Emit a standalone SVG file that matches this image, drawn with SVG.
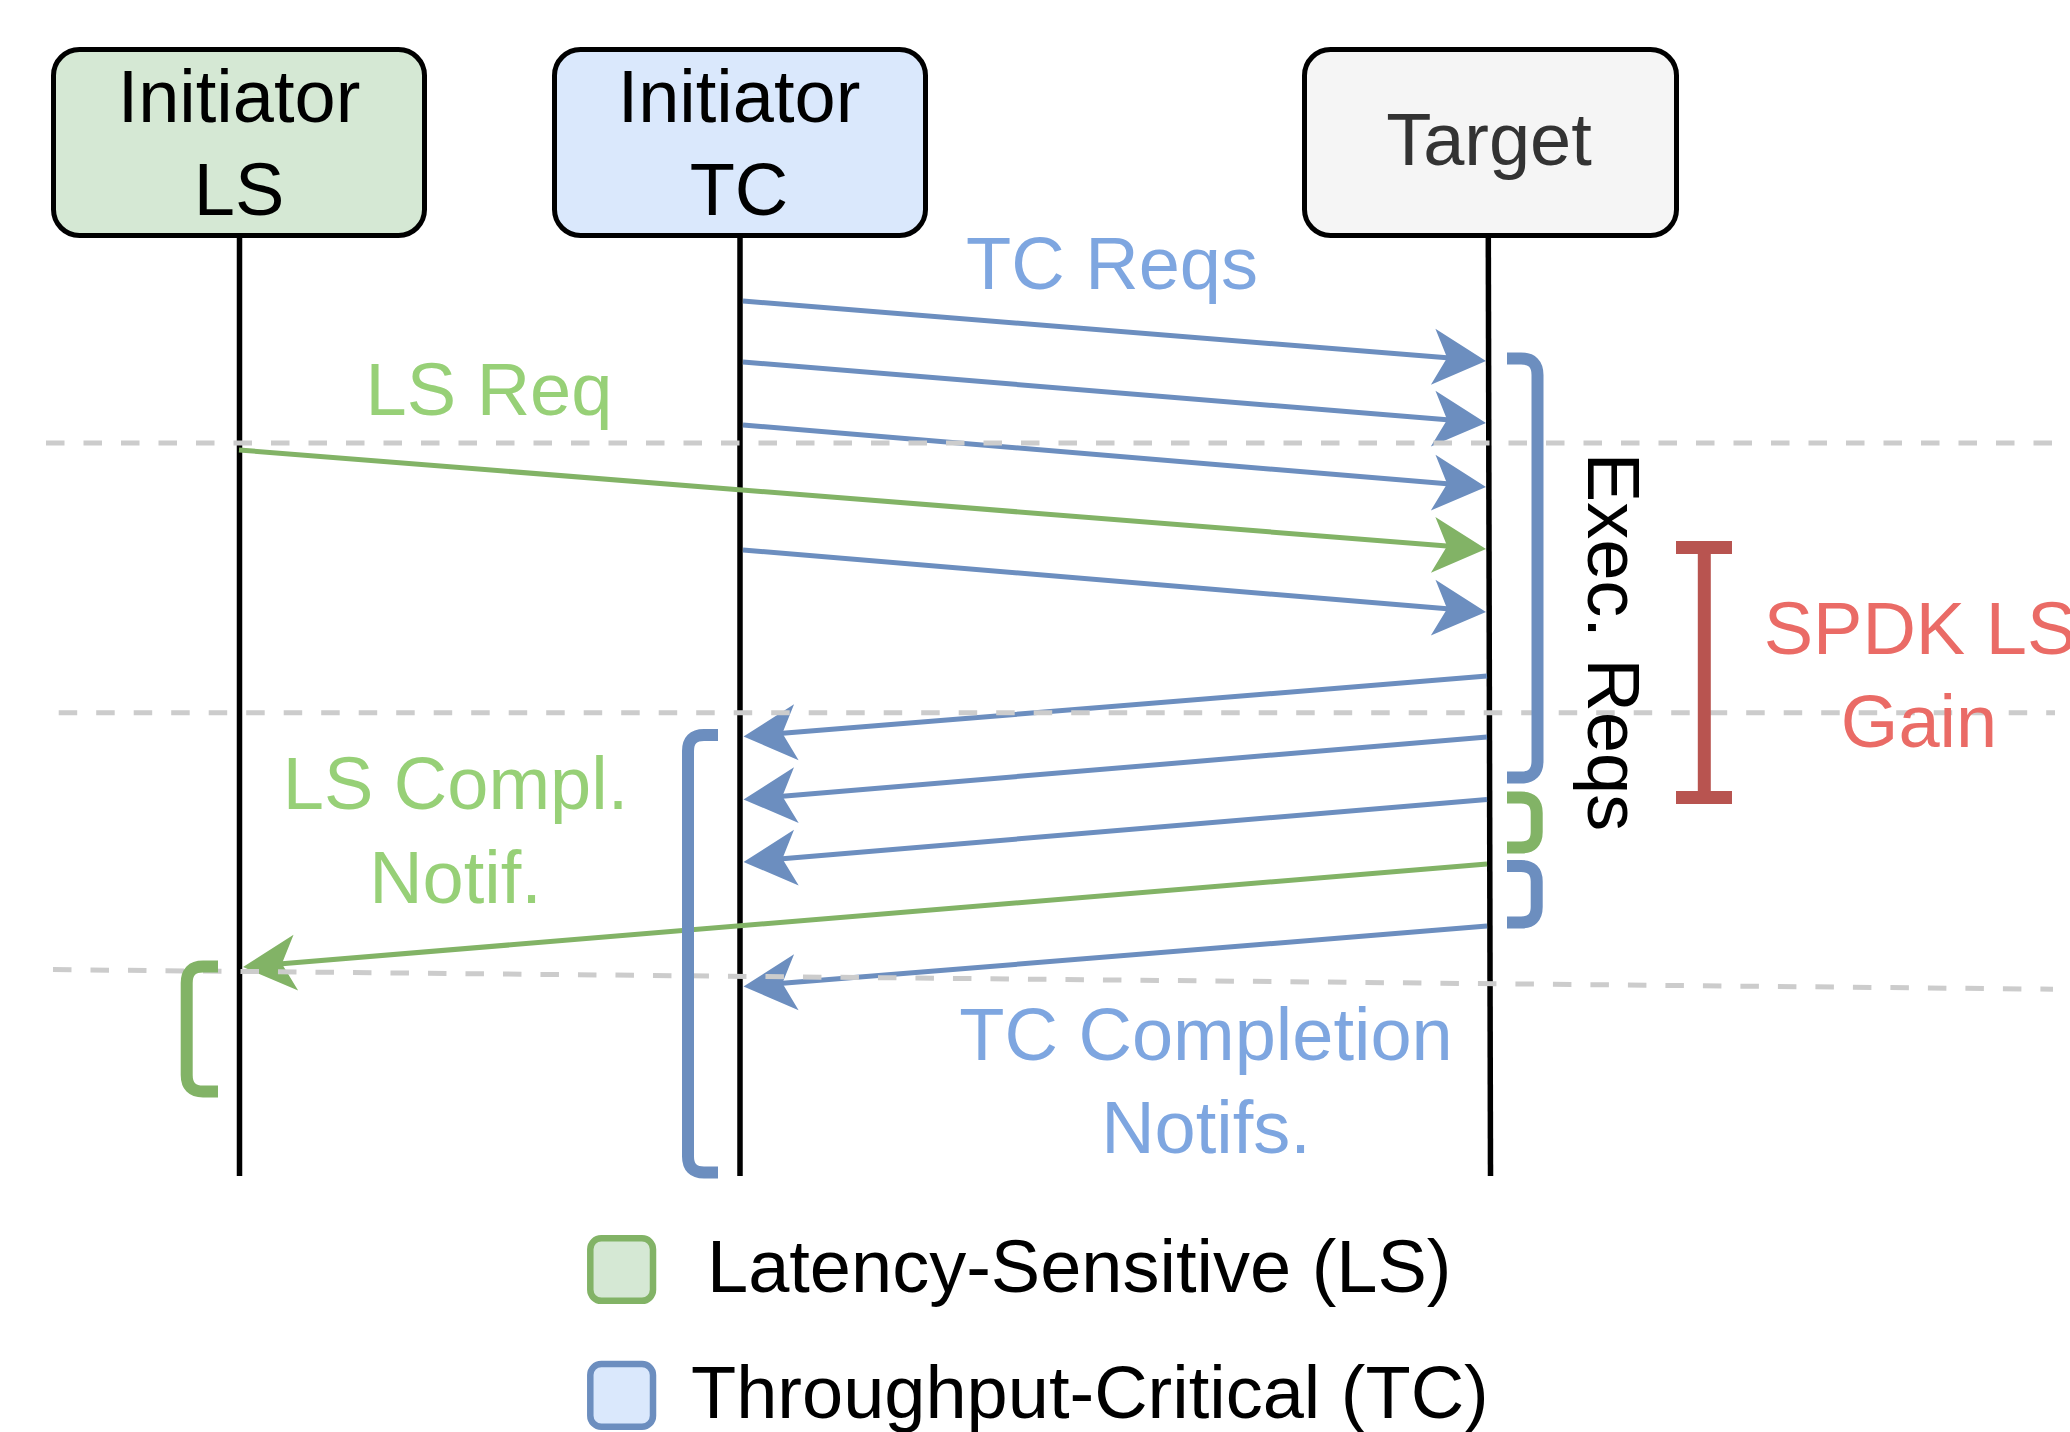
<svg xmlns="http://www.w3.org/2000/svg" width="2070" height="1432" viewBox="0 0 2070 1432">
  <defs>
    <style>
      .node { stroke: #000000; stroke-width: 5; }
      .lifeline { stroke: #000000; stroke-width: 5.5; fill: none; }
      .label { font-family: "Liberation Sans", Arial, sans-serif; font-size: 74px; text-anchor: middle; }
      .msg-tc { stroke: #6c8ebf; stroke-width: 5; fill: none; }
      .msg-ls { stroke: #82b366; stroke-width: 5; fill: none; }
      .guide { stroke: #cccccc; stroke-width: 5; stroke-dasharray: 18.5 19; fill: none; }
      .brace-tc { stroke: #6c8ebf; stroke-width: 12; fill: none; }
      .brace-ls { stroke: #82b366; stroke-width: 12; fill: none; }
    </style>
    <marker id="head-tc" viewBox="-55 -30 57 60" refX="-36" refY="0" markerWidth="57" markerHeight="60" markerUnits="userSpaceOnUse" orient="auto">
      <path d="M0,0 L-53,-28 L-39,0 L-53,28 Z" fill="#6c8ebf"/>
    </marker>
    <marker id="head-ls" viewBox="-55 -30 57 60" refX="-36" refY="0" markerWidth="57" markerHeight="60" markerUnits="userSpaceOnUse" orient="auto">
      <path d="M0,0 L-53,-28 L-39,0 L-53,28 Z" fill="#82b366"/>
    </marker>
  </defs>

  <rect width="2070" height="1432" fill="#ffffff"/>

  <!-- participants -->
  <g id="node-initiator-ls">
    <rect class="node" x="53.5" y="49.5" width="371" height="186" rx="26" fill="#d5e8d4"/>
    <text class="label" x="239" y="122" fill="#000000">Initiator</text>
    <text class="label" x="239" y="215" fill="#000000">LS</text>
    <line class="lifeline" x1="239.5" y1="238" x2="239.5" y2="1176"/>
  </g>
  <g id="node-initiator-tc">
    <rect class="node" x="554.5" y="49.5" width="371" height="186" rx="26" fill="#dae8fc"/>
    <text class="label" x="739" y="122" fill="#000000">Initiator</text>
    <text class="label" x="739" y="215" fill="#000000">TC</text>
    <line class="lifeline" x1="740" y1="238" x2="740" y2="1176"/>
  </g>
  <g id="node-target">
    <rect class="node" x="1304.5" y="49.5" width="372" height="186" rx="26" fill="#f5f5f5"/>
    <text class="label" x="1489" y="165" fill="#333333">Target</text>
    <line class="lifeline" x1="1488.3" y1="238" x2="1490.5" y2="1176"/>
  </g>

  <!-- messages -->
  <g id="connectors">
    <!-- TC requests -->
    <line class="msg-tc" x1="743" y1="301" x2="1450.1" y2="358.1" marker-end="url(#head-tc)"/>
    <line class="msg-tc" x1="743" y1="362" x2="1450.1" y2="420.1" marker-end="url(#head-tc)"/>
    <line class="msg-tc" x1="743" y1="425" x2="1450.1" y2="484.0" marker-end="url(#head-tc)"/>
    <line class="msg-tc" x1="743" y1="550" x2="1450.1" y2="609.0" marker-end="url(#head-tc)"/>
    <!-- LS request -->
    <line class="msg-ls" x1="239" y1="450" x2="1450.1" y2="546.2" marker-end="url(#head-ls)"/>
    <!-- TC completions -->
    <line class="msg-tc" x1="1487" y1="676" x2="779.4" y2="733.6" marker-end="url(#head-tc)"/>
    <line class="msg-tc" x1="1487" y1="737" x2="779.4" y2="796.5" marker-end="url(#head-tc)"/>
    <line class="msg-tc" x1="1487" y1="799.5" x2="779.4" y2="859.0" marker-end="url(#head-tc)"/>
    <line class="msg-tc" x1="1487" y1="926" x2="779.4" y2="983.6" marker-end="url(#head-tc)"/>
    <!-- LS completion -->
    <line class="msg-ls" x1="1487" y1="864" x2="278.9" y2="964.0" marker-end="url(#head-ls)"/>
  </g>

  <!-- time reference lines -->
  <g id="guides">
    <path class="guide" d="M46,443 H2070"/>
    <path class="guide" d="M58.7,712.7 H2055"/>
    <path class="guide" d="M53,969.6 L2053,989.2"/>
  </g>

  <!-- execution / wait spans -->
  <g id="spans">
    <path class="brace-tc" d="M1507,358.5 H1521 Q1537.5,358.5 1537.5,375 V761 Q1537.5,777.5 1521,777.5 H1507"/>
    <path class="brace-ls" d="M1507,797.5 H1521 Q1536.7,797.5 1536.7,813 V832 Q1536.7,847.5 1521,847.5 H1507"/>
    <path class="brace-tc" d="M1507,866 H1521 Q1536.7,866 1536.7,881.5 V907 Q1536.7,922.5 1521,922.5 H1507"/>
    <path class="brace-tc" d="M718,735 H704 Q688,735 688,751 V1156.5 Q688,1172.5 704,1172.5 H718"/>
    <path class="brace-ls" d="M218,966.5 H203 Q186.7,966.5 186.7,983 V1075 Q186.7,1091.5 203,1091.5 H218"/>
    <path d="M1676,547.5 H1732 M1704.3,547.5 V797.5 M1676,797.5 H1732" stroke="#b85450" stroke-width="13" fill="none"/>
  </g>

  <!-- annotations -->
  <g id="annotations">
    <text class="label" x="1112" y="289" fill="#7ea6e0">TC Reqs</text>
    <text class="label" x="489" y="415" fill="#97d077">LS Req</text>
    <text class="label" x="455.5" y="809" fill="#97d077">LS Compl.</text>
    <text class="label" x="455.5" y="903" fill="#97d077">Notif.</text>
    <text class="label" x="1206" y="1060" fill="#7ea6e0">TC Completion</text>
    <text class="label" x="1206" y="1153" fill="#7ea6e0">Notifs.</text>
    <text class="label" x="1588" y="642" fill="#000000" transform="rotate(90 1588 642)">Exec. Reqs</text>
    <text class="label" x="1920" y="654" fill="#ea6b66">SPDK LS</text>
    <text class="label" x="1919" y="747" fill="#ea6b66">Gain</text>
  </g>

  <!-- legend -->
  <g id="legend">
    <rect x="590.3" y="1238.3" width="62.7" height="62.5" rx="11" fill="#d5e8d4" stroke="#82b366" stroke-width="6.5"/>
    <text x="707" y="1292" font-family="'Liberation Sans', Arial, sans-serif" font-size="74" fill="#000000">Latency-Sensitive (LS)</text>
    <rect x="590.3" y="1364" width="62.7" height="62.7" rx="11" fill="#dae8fc" stroke="#6c8ebf" stroke-width="6.5"/>
    <text x="691" y="1418" font-family="'Liberation Sans', Arial, sans-serif" font-size="74" fill="#000000">Throughput-Critical (TC)</text>
  </g>
</svg>
